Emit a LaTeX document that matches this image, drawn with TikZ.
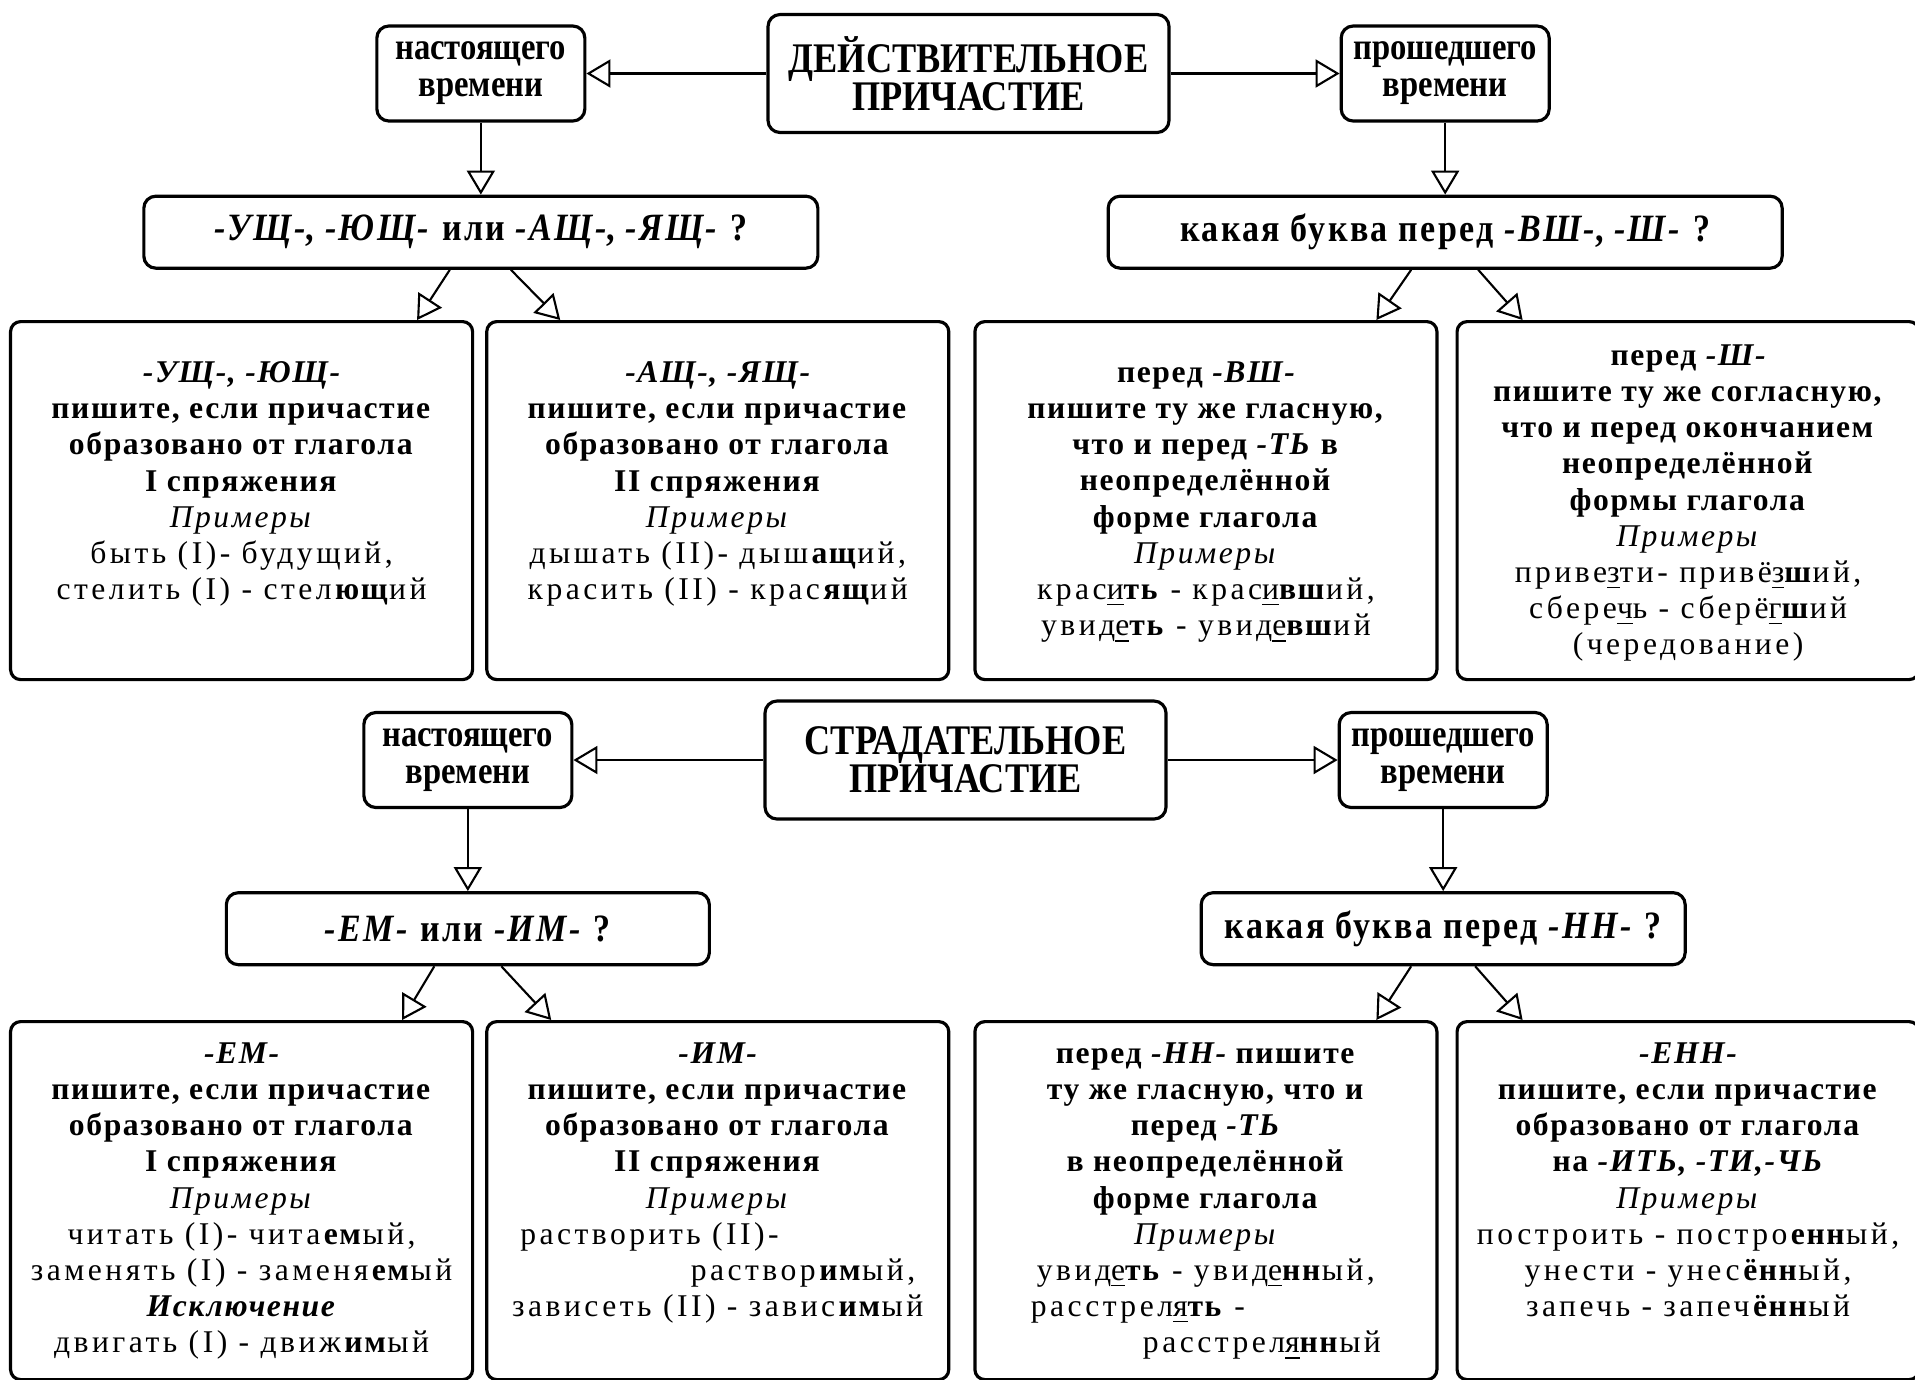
\documentclass[tikz,border=0pt]{standalone}
\usepackage{fontspec}
\setmainfont{Liberation Serif}[LetterSpace=11,
    BoldFeatures={LetterSpace=5}, BoldItalicFeatures={LetterSpace=5},
    ItalicFeatures={LetterSpace=8}]
\newfontfamily\headfont{Liberation Serif}[FakeStretch=0.86]
\newfontfamily\questfont{Liberation Serif}[FakeStretch=0.88, LetterSpace=6]
\usetikzlibrary{positioning, arrows.meta}

\newcommand{\sfx}[1]{\textbf{\textit{#1}}}
\newcommand{\leaftext}[2][0pt]{\parbox[t][3.26cm][t]{4.5cm}{\centering\vspace*{#1}#2}}

\begin{document}
\begin{tikzpicture}[
    >={Triangle[open, length=0.24cm, width=0.28cm]},
    node distance=0.72cm and 1.8cm,
    box/.style={draw, rounded corners=0.12cm, line width=0.9pt, align=center, inner sep=0pt},
    head/.style={box, minimum width=4.01cm, minimum height=1.18cm,
        font=\headfont\bfseries\fontsize{12}{10.8}\selectfont},
    tense/.style={box, minimum width=2.08cm, minimum height=0.95cm,
        font=\headfont\bfseries\fontsize{10.8}{10.5}\selectfont},
    quest/.style={box, minimum height=0.72cm,
        font=\questfont\bfseries\fontsize{11}{12}\selectfont},
    leaf/.style={box, rounded corners=0.1cm, inner xsep=0.06cm, inner ysep=0.16cm,
        font=\fontsize{9}{10.3}\selectfont},
    link/.style={->, line width=0.6pt}
]
\useasboundingbox (0,0) rectangle (19.15,-13.79);

% active participle
\node[head] (dej) at (9.685,-0.735) {ДЕЙСТВИТЕЛЬНОЕ\\ПРИЧАСТИЕ};
\node[tense, left=1.8cm of dej] (nast1) {настоящего\\времени};
\node[tense, right=1.69cm of dej] (prosh1) {прошедшего\\времени};
\node[quest, minimum width=6.74cm, below=of nast1] (q1)
    {\textit{-УЩ-}, \textit{-ЮЩ-} или \textit{-АЩ-}, \textit{-ЯЩ-} ?};
\node[quest, minimum width=6.74cm, below=of prosh1] (q2)
    {какая буква перед \textit{-ВШ-}, \textit{-Ш-} ?};

\node[leaf, anchor=north west] (la) at (0.09,-3.2) {\leaftext[0.24cm]{%
    \sfx{-УЩ-, -ЮЩ-}\\
    \textbf{пишите, если причастие}\\
    \textbf{образовано от глагола}\\
    \textbf{I спряжения}\\
    \textit{Примеры}\\
    быть (I)- будущий,\\
    стелить (I) - стел\textbf{ющ}ий}};
\node[leaf, right=0.11cm of la] (lb) {\leaftext[0.24cm]{%
    \sfx{-АЩ-, -ЯЩ-}\\
    \textbf{пишите, если причастие}\\
    \textbf{образовано от глагола}\\
    \textbf{II спряжения}\\
    \textit{Примеры}\\
    дышать (II)- дыш\textbf{ащ}ий,\\
    красить (II) - крас\textbf{ящ}ий}};
\node[leaf, right=0.23cm of lb] (lc) {\leaftext[0.24cm]{%
    \textbf{перед \textit{-ВШ-}}\\
    \textbf{пишите ту же гласную,}\\
    \textbf{что и перед \textit{-ТЬ} в}\\
    \textbf{неопределённой}\\
    \textbf{форме глагола}\\
    \textit{Примеры}\\
    крас\underline{и}\textbf{ть} - крас\underline{и}\textbf{вш}ий,\\
    увид\underline{е}\textbf{ть} - увид\underline{е}\textbf{вш}ий}};
\node[leaf, right=0.17cm of lc] (ld) {\leaftext[0.07cm]{%
    \textbf{перед \textit{-Ш-}}\\
    \textbf{пишите ту же согласную,}\\
    \textbf{что и перед окончанием}\\
    \textbf{неопределённой}\\
    \textbf{формы глагола}\\
    \textit{Примеры}\\
    приве\underline{з}ти- привё\underline{з}\textbf{ш}ий,\\
    сбере\underline{ч}ь - сберё\underline{г}\textbf{ш}ий\\
    (чередование)}};

% passive participle
\node[head] (strad) at (9.655,-7.6) {СТРАДАТЕЛЬНОЕ\\ПРИЧАСТИЕ};
\node[tense, left=1.9cm of strad] (nast2) {настоящего\\времени};
\node[tense, right=1.7cm of strad] (prosh2) {прошедшего\\времени};
\node[quest, minimum width=4.83cm, below=0.82cm of nast2] (q3)
    {\textit{-ЕМ-} или \textit{-ИМ-} ?};
\node[quest, minimum width=4.84cm, below=0.82cm of prosh2] (q4)
    {какая буква перед \textit{-НН-} ?};

\node[leaf, anchor=north west] (le) at (0.09,-10.2) {\leaftext[0.05cm]{%
    \sfx{-ЕМ-}\\
    \textbf{пишите, если причастие}\\
    \textbf{образовано от глагола}\\
    \textbf{I спряжения}\\
    \textit{Примеры}\\
    читать (I)- чита\textbf{ем}ый,\\
    заменять (I) - заменя\textbf{ем}ый\\
    \sfx{Исключение}\\
    двигать (I) - движ\textbf{им}ый}};
\node[leaf, right=0.11cm of le] (lf) {\leaftext[0.05cm]{%
    \sfx{-ИМ-}\\
    \textbf{пишите, если причастие}\\
    \textbf{образовано от глагола}\\
    \textbf{II спряжения}\\
    \textit{Примеры}\\
    \makebox[3.95cm][l]{растворить (II)-}\\
    \makebox[3.95cm][r]{раствор\textbf{им}ый,}\\
    зависеть (II) - завис\textbf{им}ый}};
\node[leaf, right=0.23cm of lf] (lg) {\leaftext[0.05cm]{%
    \textbf{перед \textit{-НН-} пишите}\\
    \textbf{ту же гласную, что и}\\
    \textbf{перед \textit{-ТЬ}}\\
    \textbf{в неопределённой}\\
    \textbf{форме глагола}\\
    \textit{Примеры}\\
    увид\underline{е}\textbf{ть} - увид\underline{е}\textbf{нн}ый,\\
    \makebox[3.5cm][l]{расстрел\underline{я}\textbf{ть} -}\\
    \makebox[3.5cm][r]{расстрел\underline{я}\textbf{нн}ый}}};
\node[leaf, right=0.17cm of lg] (lh) {\leaftext[0.05cm]{%
    \sfx{-ЕНН-}\\
    \textbf{пишите, если причастие}\\
    \textbf{образовано от глагола}\\
    \textbf{на \textit{-ИТЬ, -ТИ,-ЧЬ}}\\
    \textit{Примеры}\\
    построить - постро\textbf{енн}ый,\\
    унести - унес\textbf{ённ}ый,\\
    запечь - запеч\textbf{ённ}ый}};

% connectors
\draw[link] (dej.west) -- (nast1.east);
\draw[link] (dej.east) -- (prosh1.west);
\draw[link] (nast1) -- (q1);
\draw[link] (prosh1) -- (q2);
\draw[link] ([xshift=-0.31cm]q1.south) -- ([xshift=1.755cm]la.north);
\draw[link] ([xshift=0.30cm]q1.south) -- ([xshift=-1.575cm]lb.north);
\draw[link] ([xshift=-0.34cm]q2.south) -- ([xshift=1.705cm]lc.north);
\draw[link] ([xshift=0.33cm]q2.south) -- ([xshift=-1.655cm]ld.north);

\draw[link] (strad.west) -- (nast2.east);
\draw[link] (strad.east) -- (prosh2.west);
\draw[link] (nast2) -- (q3);
\draw[link] (prosh2) -- (q4);
\draw[link] ([xshift=-0.335cm]q3.south) -- ([xshift=1.605cm]le.north);
\draw[link] ([xshift=0.335cm]q3.south) -- ([xshift=-1.665cm]lf.north);
\draw[link] ([xshift=-0.32cm]q4.south) -- ([xshift=1.705cm]lg.north);
\draw[link] ([xshift=0.32cm]q4.south) -- ([xshift=-1.655cm]lh.north);
\end{tikzpicture}
\end{document}
